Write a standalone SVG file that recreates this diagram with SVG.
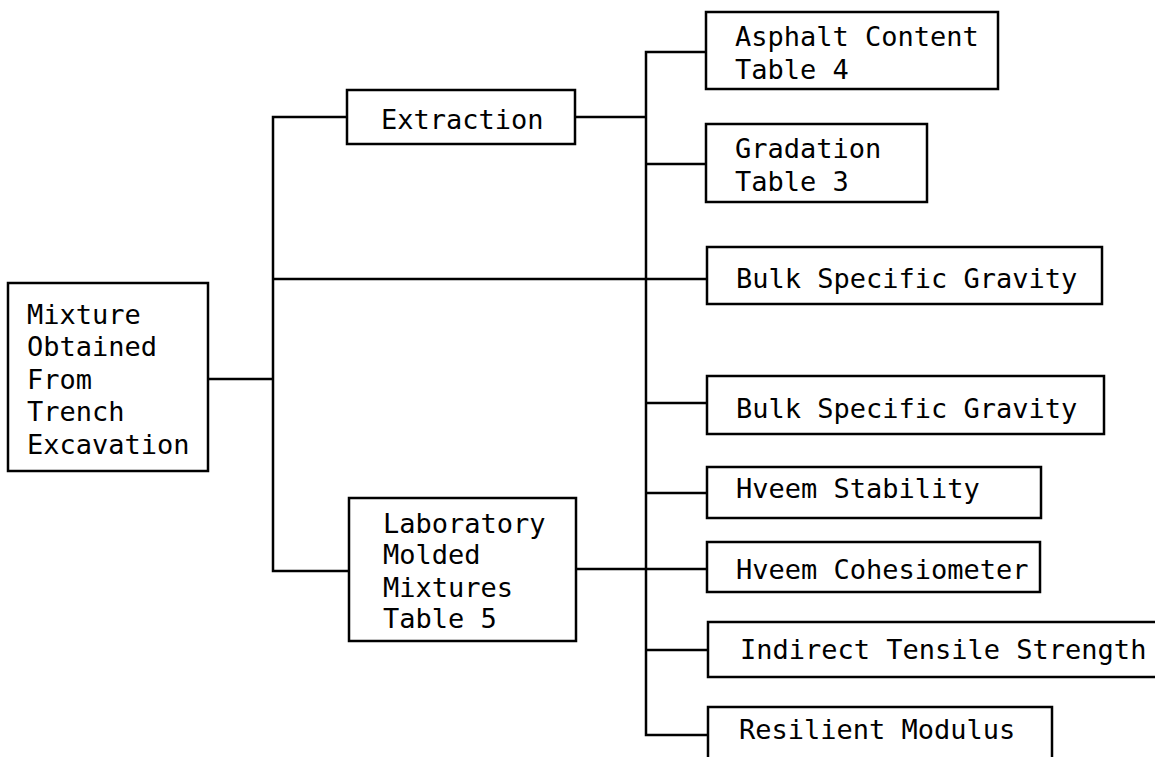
<svg xmlns="http://www.w3.org/2000/svg" width="1155" height="757" viewBox="0 0 1155 757">
<style>
.box{fill:#fff;stroke:#000;stroke-width:2.5}
.ln{fill:none;stroke:#000;stroke-width:2.5}
text{font-family:"DejaVu Sans Mono","Liberation Mono",monospace;font-size:27px;fill:#000}
</style>
<rect width="1155" height="757" fill="#fff"/>
<g id="connectors">
<path class="ln" d="M208 379 H273"/>
<path class="ln" d="M347 117 H273 V571 H349"/>
<path class="ln" d="M273 279 H707"/>
<path class="ln" d="M575 117 H646"/>
<path class="ln" d="M576 569 H707"/>
<path class="ln" d="M706 52 H646 V735 H708"/>
<path class="ln" d="M646 164 H706"/>
<path class="ln" d="M646 403 H707"/>
<path class="ln" d="M646 493 H707"/>
<path class="ln" d="M646 650 H708"/>
</g>
<g id="mixture">
<rect class="box" x="8" y="283" width="200" height="188"/>
<text x="27" y="324">Mixture</text>
<text x="27" y="356">Obtained</text>
<text x="27" y="389">From</text>
<text x="27" y="421">Trench</text>
<text x="27" y="454">Excavation</text>
</g>
<g id="extraction">
<rect class="box" x="347" y="90" width="228" height="54"/>
<text x="381" y="129">Extraction</text>
</g>
<g id="lab">
<rect class="box" x="349" y="498" width="227" height="143"/>
<text x="383" y="533">Laboratory</text>
<text x="383" y="564">Molded</text>
<text x="383" y="597">Mixtures</text>
<text x="383" y="628">Table 5</text>
</g>
<g id="asphalt">
<rect class="box" x="706" y="12" width="292" height="77"/>
<text x="735" y="46">Asphalt Content</text>
<text x="735" y="79">Table 4</text>
</g>
<g id="gradation">
<rect class="box" x="706" y="124" width="221" height="78"/>
<text x="735" y="158">Gradation</text>
<text x="735" y="191">Table 3</text>
</g>
<g id="bsg1">
<rect class="box" x="707" y="247" width="395" height="57"/>
<text x="736" y="288">Bulk Specific Gravity</text>
</g>
<g id="bsg2">
<rect class="box" x="707" y="376" width="397" height="58"/>
<text x="736" y="418">Bulk Specific Gravity</text>
</g>
<g id="hstab">
<rect class="box" x="707" y="467" width="334" height="51"/>
<text x="736" y="498">Hveem Stability</text>
</g>
<g id="hcoh">
<rect class="box" x="707" y="542" width="333" height="50"/>
<text x="736" y="579">Hveem Cohesiometer</text>
</g>
<g id="its">
<rect class="box" x="708" y="622" width="460" height="55"/>
<text x="740" y="659">Indirect Tensile Strength</text>
</g>
<g id="resilient">
<rect class="box" x="708" y="707" width="344" height="60"/>
<text x="739" y="739">Resilient Modulus</text>
</g>
</svg>
